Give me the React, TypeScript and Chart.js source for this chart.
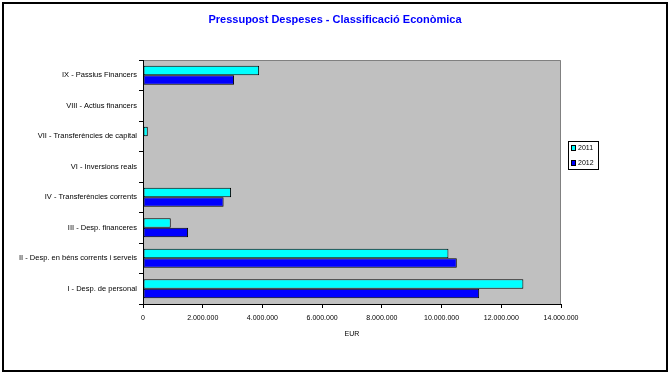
import React, { useEffect, useRef } from 'react';
import { Chart, registerables } from 'chart.js';

Chart.register(...registerables);

const chartTitle = 'Pressupost Despeses - Classificació Econòmica';
const categories = [
  'IX - Passius Financers',
  'VIII - Actius financers',
  'VII - Transferències de capital',
  'VI - Inversions reals',
  'IV - Transferències corrents',
  'III - Desp. financeres',
  'II - Desp. en béns corrents i serveis',
  'I - Desp. de personal',
];
const seriesLabels = ['2011', '2012'];
const values2011 = [3890000, 0, 160000, 0, 2950000, 930000, 10230000, 12740000];
const values2012 = [3050000, 0, 0, 0, 2700000, 1510000, 10510000, 11260000];
const seriesColors = ['#00FFFF', '#0000FF'];
const xMin = 0;
const xMax = 14000000;
const xStep = 2000000;
const xAxisTitle = 'EUR';

const FONT = "'Liberation Sans', Arial, sans-serif";

function fmt(v: number): string {
  return String(Math.round(v)).replace(/\B(?=(\d{3})+(?!\d))/g, '.');
}

const decorPlugin = {
  id: 'decor',
  beforeDraw(chart: any) {
    const { ctx, chartArea: a } = chart;
    ctx.save();
    ctx.fillStyle = '#FFFFFF';
    ctx.fillRect(0, 0, chart.width, chart.height);
    ctx.fillStyle = '#C0C0C0';
    ctx.fillRect(a.left, a.top, a.right - a.left, a.bottom - a.top);
    ctx.strokeStyle = '#808080';
    ctx.lineWidth = 1;
    ctx.beginPath();
    ctx.moveTo(a.left, a.top + 0.5);
    ctx.lineTo(a.right - 0.5, a.top + 0.5);
    ctx.lineTo(a.right - 0.5, a.bottom);
    ctx.stroke();
    ctx.restore();
  },
  afterDraw(chart: any) {
    const { ctx } = chart;
    ctx.save();
    // outer border
    ctx.strokeStyle = '#000000';
    ctx.lineWidth = 2;
    ctx.strokeRect(3, 3, 664, 368);
    // title
    ctx.fillStyle = '#0000FF';
    ctx.font = `bold 11px ${FONT}`;
    ctx.textAlign = 'center';
    ctx.textBaseline = 'middle';
    ctx.fillText(chartTitle, 335, 20);
    // legend
    ctx.lineWidth = 1;
    ctx.strokeStyle = '#000000';
    ctx.strokeRect(568.5, 141.5, 30, 28);
    ctx.font = `7px ${FONT}`;
    ctx.textAlign = 'left';
    chart.data.datasets.forEach((ds: any, i: number) => {
      const cy = 148 + i * 15;
      ctx.fillStyle = ds.backgroundColor;
      ctx.fillRect(571.5, cy - 2.5, 4, 5);
      ctx.strokeRect(571.5, cy - 2.5, 4, 5);
      ctx.fillStyle = '#000000';
      ctx.fillText(ds.label, 578, cy);
    });
    ctx.restore();
  },
};

export default function App() {
  const ref = useRef<HTMLCanvasElement | null>(null);
  useEffect(() => {
    if (!ref.current) return;
    const chart = new Chart(ref.current, {
      type: 'bar',
      data: {
        labels: categories,
        datasets: [
          {
            label: seriesLabels[0],
            data: values2011,
            backgroundColor: seriesColors[0],
            borderColor: '#000000',
            borderWidth: 1,
            borderSkipped: false,
            categoryPercentage: 0.62,
            barPercentage: 1,
          },
          {
            label: seriesLabels[1],
            data: values2012,
            backgroundColor: seriesColors[1],
            borderColor: '#000000',
            borderWidth: 1,
            borderSkipped: false,
            categoryPercentage: 0.62,
            barPercentage: 1,
          },
        ],
      },
      options: {
        indexAxis: 'y',
        responsive: false,
        animation: false,
        layout: { padding: { left: 0, right: 108, top: 60, bottom: 0 } },
        plugins: {
          legend: { display: false },
          title: { display: false },
          tooltip: { enabled: false },
        },
        scales: {
          y: {
            type: 'category',
            afterFit: (s: any) => {
              s.width = 143;
            },
            grid: { drawOnChartArea: false, drawTicks: true, tickLength: 4, color: '#000000', offset: true },
            border: { color: '#000000', width: 1 },
            ticks: { font: { family: FONT, size: 7.5 }, color: '#000000', padding: 2, autoSkip: false },
          },
          x: {
            type: 'linear',
            min: xMin,
            max: xMax,
            afterFit: (s: any) => {
              s.height = 71;
            },
            grid: { drawOnChartArea: false, drawTicks: true, tickLength: 4, color: '#000000' },
            border: { color: '#000000', width: 1 },
            ticks: {
              stepSize: xStep,
              callback: (v: any) => fmt(Number(v)),
              font: { family: FONT, size: 7 },
              color: '#000000',
              padding: 6,
              maxRotation: 0,
            },
            title: {
              display: true,
              text: xAxisTitle,
              font: { family: FONT, size: 7 },
              color: '#000000',
              padding: { top: 0, bottom: 37 },
            },
          },
        },
      },
      plugins: [decorPlugin],
    });
    return () => chart.destroy();
  }, []);
  return (
    <div style={{ position: 'fixed', left: 0, top: 0, width: 669, height: 375, background: '#fff' }}>
      <canvas ref={ref} width={669} height={375} style={{ display: 'block' }} />
    </div>
  );
}
